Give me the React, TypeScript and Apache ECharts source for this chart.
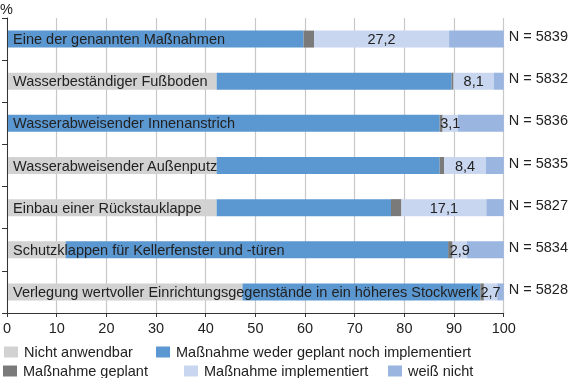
import React, { useEffect, useRef } from "react";
import * as echarts from "echarts";

const categories = [
  "Eine der genannten Maßnahmen",
  "Wasserbeständiger Fußboden",
  "Wasserabweisender Innenanstrich",
  "Wasserabweisender Außenputz",
  "Einbau einer Rückstauklappe",
  "Schutzklappen für Kellerfenster und -türen",
  "Verlegung wertvoller Einrichtungsgegenstände in ein höheres Stockwerk",
];
const nLabels = ["N = 5839", "N = 5832", "N = 5836", "N = 5835", "N = 5827", "N = 5834", "N = 5828"];
const nichtAnwendbar = [0, 42.2, 0, 42.2, 42.2, 11.8, 47.4];
const wederNoch = [59.7, 47.3, 87.1, 44.9, 35.1, 77.0, 47.9];
const geplant = [2.1, 0.4, 0.6, 0.9, 2.1, 0.9, 0.7];
const implementiert = [27.2, 8.1, 3.1, 8.4, 17.1, 2.9, 2.7];
const weissNicht = [11.0, 2.0, 9.2, 3.6, 3.5, 7.4, 1.3];
const xTicks = { min: 0, max: 100, interval: 10 };

const seriesNames = [
  "Nicht anwendbar",
  "Maßnahme weder geplant noch implementiert",
  "Maßnahme geplant",
  "Maßnahme implementiert",
  "weiß nicht",
];
const colors = ["#d2d2d2", "#5b97d0", "#7a7a7a", "#c9d6ef", "#99b5e0"];

const FONT = "'Liberation Sans', Arial, Helvetica, sans-serif";
const FS = 14.5;

export default function App() {
  const ref = useRef<HTMLDivElement>(null);
  useEffect(() => {
    if (!ref.current) return;
    const chart = echarts.init(ref.current, undefined, { renderer: "svg" });
    const dataSets = [nichtAnwendbar, wederNoch, geplant, implementiert, weissNicht];
    const legendPos = [
      { left: 4, top: 344 },
      { left: 156, top: 344 },
      { left: 3, top: 363 },
      { left: 184, top: 363 },
      { left: 388, top: 363 },
    ];
    chart.setOption({
      animation: false,
      textStyle: { fontFamily: FONT },
      grid: { left: 5, right: 66, top: 18, bottom: 65, containLabel: false },
      graphic: [
        {
          type: "text",
          left: 0,
          top: 1,
          style: { text: "%", fontSize: FS, fontFamily: FONT, fill: "#222" },
        },
      ],
      legend: legendPos.map((p, i) => ({
        left: p.left,
        top: p.top,
        padding: 0,
        itemWidth: 14,
        itemHeight: 11,
        icon: "rect",
        selectedMode: false,
        data: [seriesNames[i]],
        textStyle: {
          fontSize: FS,
          fontFamily: FONT,
          color: "#222",
          padding: [0, 0, 0, 1],
          lineHeight: 16,
        },
      })),
      xAxis: {
        type: "value",
        min: xTicks.min,
        max: xTicks.max,
        interval: xTicks.interval,
        axisLine: { show: true, lineStyle: { color: "#333", width: 1 } },
        axisTick: { show: true, length: 4, lineStyle: { color: "#333" } },
        axisLabel: { fontSize: FS, fontFamily: FONT, color: "#222", margin: 7 },
        splitLine: { show: true, lineStyle: { color: "#c8c8c8", width: 1.2 } },
      },
      yAxis: [
        {
          type: "category",
          data: categories,
          inverse: true,
          z: 10,
          axisLine: { show: true, lineStyle: { color: "#333", width: 1 } },
          axisTick: { show: true, length: 5, lineStyle: { color: "#333" } },
          axisLabel: {
            inside: true,
            margin: 6,
            align: "left",
            fontSize: FS,
            fontFamily: FONT,
            color: "#222",
          },
        },
        {
          type: "category",
          data: nLabels,
          inverse: true,
          position: "right",
          axisLine: { show: false },
          axisTick: { show: false },
          axisLabel: {
            margin: 5,
            align: "left",
            formatter: (v: string) => "{n|" + v + "}",
            rich: {
              n: {
                fontSize: FS,
                fontFamily: FONT,
                color: "#222",
                padding: [0, 0, 6, 0],
              },
            },
          },
        },
      ],
      series: dataSets.map((d, i) => ({
        name: seriesNames[i],
        type: "bar",
        stack: "total",
        yAxisIndex: 0,
        barWidth: 17,
        itemStyle: { color: colors[i] },
        data: d,
        label:
          i === 3
            ? {
                show: true,
                position: "inside",
                fontSize: FS,
                fontFamily: FONT,
                color: "#222",
                formatter: (p: any) => String(p.value).replace(".", ","),
              }
            : { show: false },
      })),
    });
    return () => chart.dispose();
  }, []);
  return (
    <div
      ref={ref}
      style={{ position: "fixed", left: 0, top: 0, width: 571, height: 378 }}
    />
  );
}
